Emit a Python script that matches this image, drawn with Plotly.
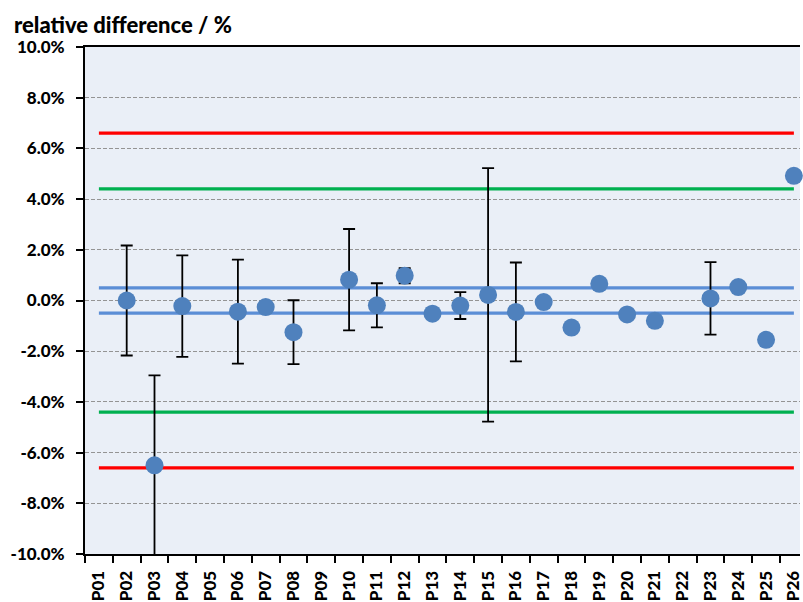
import plotly.graph_objects as go

# Participants P01..P26
participants = [f"P{i:02d}" for i in range(1, 27)]

# Relative difference (%) per participant; None = no result reported
rel_diff = [None, 0.00, -6.50, -0.22, None, -0.44, -0.26, -1.25, None, 0.82,
            -0.19, 0.98, -0.52, -0.20, 0.22, -0.45, -0.06, -1.07, 0.66, -0.55,
            -0.80, None, 0.08, 0.53, -1.55, 4.92]

# Expanded uncertainty (%) per participant; 0 = none stated
uncertainty = [0, 2.17, 3.55, 2.00, 0, 2.05, 0, 1.26, 0, 2.00,
               0.87, 0.30, 0, 0.53, 5.00, 1.95, 0, 0, 0, 0,
               0, 0, 1.43, 0, 0, 0]

# Limits (%)
action_limit = 6.6
warning_limit = 4.4
target_band = 0.5

y_ticks = [-10, -8, -6, -4, -2, 0, 2, 4, 6, 8, 10]
y_tick_text = [f"{v:.1f}%" for v in y_ticks]

FONT = "Lato"

fig = go.Figure()

ends = [participants[0], participants[-1]]
limit_lines = [
    (action_limit, "#FF0000"),
    (-action_limit, "#FF0000"),
    (warning_limit, "#00B050"),
    (-warning_limit, "#00B050"),
    (target_band, "#5B8ED6"),
    (-target_band, "#5B8ED6"),
]
for level, color in limit_lines:
    fig.add_trace(go.Scatter(
        x=ends, y=[level, level], mode="lines",
        line=dict(color=color, width=3.2),
        hoverinfo="skip", showlegend=False,
    ))

fig.add_trace(go.Scatter(
    x=participants, y=rel_diff, mode="markers",
    marker=dict(color="#4F81BD", size=18, line=dict(width=0)),
    error_y=dict(type="data", array=uncertainty, visible=True,
                 color="black", thickness=1.8, width=6),
    cliponaxis=False, showlegend=False,
))

fig.update_layout(
    width=803, height=602,
    margin=dict(l=85, r=0, t=47, b=48),
    paper_bgcolor="white",
    plot_bgcolor="#EAEFF7",
    font=dict(family=FONT, color="black"),
    showlegend=False,
)

fig.update_xaxes(
    type="category",
    categoryorder="array", categoryarray=participants,
    range=[-0.5, 25.22],
    showgrid=False,
    showline=True, linecolor="black", linewidth=2, mirror=True,
    ticks="outside", tickson="boundaries", ticklen=7, tickcolor="black", tickwidth=1.5,
    tickangle=-90,
    tickfont=dict(family=FONT, size=17, color="black", weight=900),
    ticklabelstandoff=8,
)

fig.update_yaxes(
    range=[-10, 10],
    tickvals=y_ticks, ticktext=y_tick_text,
    showgrid=True, gridcolor="#949494", gridwidth=1, griddash="4px,2px",
    zeroline=False,
    showline=True, linecolor="black", linewidth=2,
    ticks="outside", ticklen=7, tickcolor="black", tickwidth=1.5,
    tickfont=dict(family=FONT, size=17, color="black", weight=900),
    ticklabelstandoff=8,
)

fig.add_annotation(
    text="relative difference / %",
    xref="paper", yref="paper",
    x=-73 / 718, y=1, xanchor="left", yanchor="middle", yshift=23,
    showarrow=False,
    font=dict(family=FONT, size=22, color="black", weight=900),
)

fig.write_html("out.html")
